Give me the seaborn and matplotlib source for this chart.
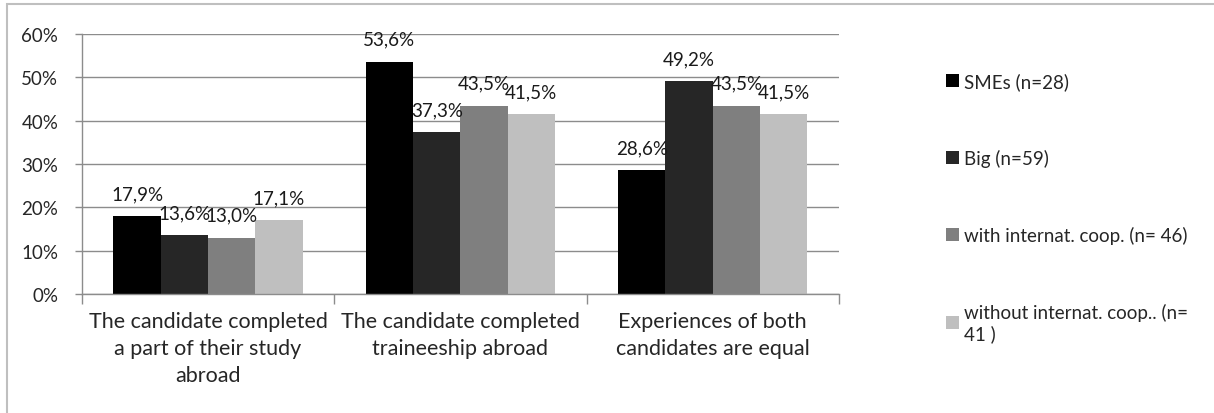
import matplotlib
matplotlib.use("Agg")
import matplotlib.pyplot as plt
import matplotlib.patches as mpatches
import seaborn as sns
import pandas as pd

categories = [
    "The candidate completed\na part of their study\nabroad",
    "The candidate completed\ntraineeship abroad",
    "Experiences of both\ncandidates are equal",
]
groups = [
    "SMEs (n=28)",
    "Big (n=59)",
    "with internat. coop. (n= 46)",
    "without internat. coop.. (n=\n41 )",
]
smes = [17.9, 53.6, 28.6]
big = [13.6, 37.3, 49.2]
with_coop = [13.0, 43.5, 43.5]
without_coop = [17.1, 41.5, 41.5]
colors = ["#000000", "#262626", "#7f7f7f", "#bfbfbf"]

series = [smes, big, with_coop, without_coop]
rows = []
for g, vals in zip(groups, series):
    for c, v in zip(categories, vals):
        rows.append({"category": c, "group": g, "value": v})
df = pd.DataFrame(rows)

sns.set_theme(style="white")
plt.rcParams["font.family"] = ["Lato", "DejaVu Sans"]

fig = plt.figure(figsize=(12.14, 4.14), dpi=100)
ax = fig.add_axes([0.0675, 0.2874, 0.6235, 0.628])

sns.barplot(data=df, x="category", y="value", hue="group", order=categories,
            hue_order=groups, palette=colors, width=0.75, saturation=1,
            edgecolor="none", linewidth=0, ax=ax, legend=True)

# value labels above each bar
for cont in ax.containers:
    for bar in cont:
        h = bar.get_height()
        ax.annotate(f"{h:.1f}%".replace(".", ","),
                    (bar.get_x() + bar.get_width() / 2, h),
                    xytext=(0, 10), textcoords="offset points",
                    ha="center", va="bottom", fontsize=13.5, color="#1a1a1a")

ax.set_ylim(0, 60)
ax.set_xlim(-0.5, 2.5)
ax.set_yticks(range(0, 61, 10))
ax.set_yticklabels([f"{t}%" for t in range(0, 61, 10)], fontsize=13.5)
ax.yaxis.grid(True, color="#8c8c8c", linewidth=1)
ax.set_axisbelow(True)
ax.set_xlabel("")
ax.set_ylabel("")

ax.tick_params(axis="x", which="major", length=0, labelsize=15.5, pad=12)
for lbl in ax.get_xticklabels():
    lbl.set_linespacing(1.45)
ax.set_xticks([-0.5, 0.5, 1.5, 2.5], minor=True)
ax.tick_params(axis="x", which="minor", length=7, color="#8c8c8c", width=1, bottom=True)
ax.tick_params(axis="y", length=5, color="#8c8c8c", width=1, left=True, pad=12)

for side in ["top", "right"]:
    ax.spines[side].set_visible(False)
for side in ["left", "bottom"]:
    ax.spines[side].set_color("#8c8c8c")
    ax.spines[side].set_linewidth(1)

handles, labels = ax.get_legend_handles_labels()
ax.legend_.remove()
fig.legend(handles, labels, loc="upper left", bbox_to_anchor=(0.765, 0.865),
           frameon=False, fontsize=13.5, handlelength=0.7, handleheight=0.7,
           handletextpad=0.3, labelspacing=3.15)

# outer chart frame
fig.patches.append(mpatches.Rectangle((0.0058, -0.05), 1.1, 1.038,
                                      transform=fig.transFigure, fill=False,
                                      edgecolor="#bfbfbf", linewidth=1.5))

fig.savefig("out.png", dpi=100)
